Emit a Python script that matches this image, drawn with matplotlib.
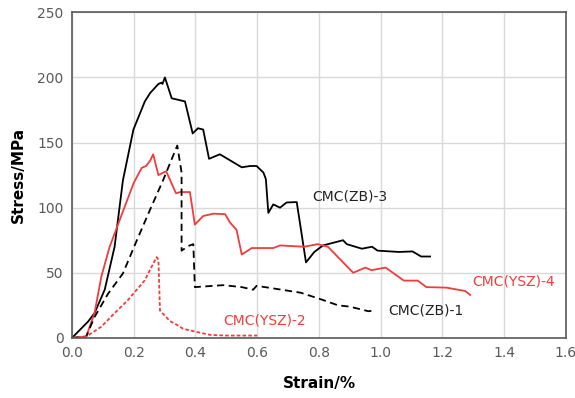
import matplotlib
matplotlib.use('Agg')
from matplotlib import pyplot as plt

# CMC(ZB)-3, solid black
zb3_x = [0, 0.052, 0.073, 0.106, 0.138, 0.165, 0.199, 0.236, 0.253, 0.28, 0.29, 0.293, 0.301,
         0.323, 0.366, 0.391, 0.408, 0.425, 0.444, 0.479, 0.55, 0.577, 0.598, 0.62, 0.628,
         0.636, 0.652, 0.674, 0.695, 0.728, 0.758, 0.785, 0.813, 0.878, 0.89, 0.939, 0.972,
         0.99, 1.059, 1.103, 1.131, 1.16]
zb3_y = [0, 12.5, 19, 37, 70, 121, 160, 181.6, 188, 195, 196, 195, 200,
         184, 181.6, 157, 161, 160, 137.5, 141, 131, 132, 132, 127, 122,
         96, 102.5, 100, 104, 104.3, 58, 66, 71, 75, 72, 68.5, 70,
         67, 66, 66.4, 62.5, 62.5]

# CMC(YSZ)-4, solid red
ysz4_x = [0, 0.046, 0.073, 0.095, 0.122, 0.16, 0.2, 0.226, 0.24, 0.253, 0.263, 0.28, 0.296,
          0.305, 0.337, 0.35, 0.382, 0.398, 0.425, 0.458, 0.496, 0.512, 0.533, 0.55, 0.582,
          0.652, 0.674, 0.752, 0.796, 0.829, 0.911, 0.95, 0.97, 1.016, 1.075, 1.12, 1.148,
          1.213, 1.274, 1.29]
ysz4_y = [0, 1, 19, 47, 70, 94, 119, 130.6, 132, 136, 141, 125, 127,
          128, 111, 112, 112, 87, 93.6, 95.4, 95, 88.5, 83, 64, 69,
          69, 71, 70, 72, 70, 50, 54, 52, 54, 44, 44, 39,
          38.6, 36, 33]

# CMC(ZB)-1, dashed black
zb1_x = [0, 0.046, 0.073, 0.117, 0.165, 0.203, 0.252, 0.295, 0.341, 0.355, 0.355, 0.377,
         0.393, 0.398, 0.49, 0.55, 0.587, 0.598, 0.741, 0.807, 0.862, 0.9, 0.96, 0.98]
zb1_y = [0, 1, 16, 34, 49.5, 71, 98, 121, 147.7, 127, 67, 70.6,
         72, 39, 40.5, 39, 37, 40, 34.7, 29.6, 25, 24, 20.5, 21]

# CMC(YSZ)-2, short-dashed red
ysz2_x = [0, 0.046, 0.095, 0.138, 0.181, 0.235, 0.274, 0.28, 0.285, 0.317, 0.34, 0.36,
          0.404, 0.447, 0.5, 0.6]
ysz2_y = [0, 1, 8.6, 19, 29, 44, 62, 60, 21, 13, 10, 7,
          4.6, 2.3, 1.8, 1.8]

x_ticks = [0.0, 0.2, 0.4, 0.6, 0.8, 1.0, 1.2, 1.4, 1.6]
y_ticks = [0, 50, 100, 150, 200, 250]

red = '#f03c3c'
fig = plt.figure(figsize=(5.75, 3.98), dpi=100)
ax = fig.add_axes([0.1252, 0.151, 0.859, 0.818])

ax.plot(zb3_x, zb3_y, color='black', lw=1.3)
ax.plot(ysz4_x, ysz4_y, color=red, lw=1.3)
ax.plot(zb1_x, zb1_y, color='black', lw=1.3, ls=(0, (4, 2.5)))
ax.plot(ysz2_x, ysz2_y, color=red, lw=1.3, ls=(0, (2, 1.2)))

ax.text(0.777, 108.6, 'CMC(ZB)-3', fontsize=10, va='center', color='#222222')
ax.text(1.296, 43.6, 'CMC(YSZ)-4', fontsize=10, va='center', color=red)
ax.text(1.023, 21.4, 'CMC(ZB)-1', fontsize=10, va='center', color='#222222')
ax.text(0.489, 13, 'CMC(YSZ)-2', fontsize=10, va='center', color=red)

ax.set_xlim(0, 1.6)
ax.set_ylim(0, 250)
ax.set_xticks(x_ticks)
ax.set_xticklabels(['%.1f' % v for v in x_ticks])
ax.set_yticks(y_ticks)
ax.tick_params(length=0, labelsize=10, labelcolor='#595959', pad=6)
ax.grid(True, color='#d9d9d9', lw=1)
ax.set_axisbelow(True)
for s in ax.spines.values():
    s.set_color('#595959')
    s.set_linewidth(1.2)

ax.set_xlabel('Strain/%', fontsize=11, fontweight='bold', labelpad=11)
ax.set_ylabel('Stress/MPa', fontsize=11, fontweight='bold', labelpad=8)

fig.savefig('out.png', dpi=100)
